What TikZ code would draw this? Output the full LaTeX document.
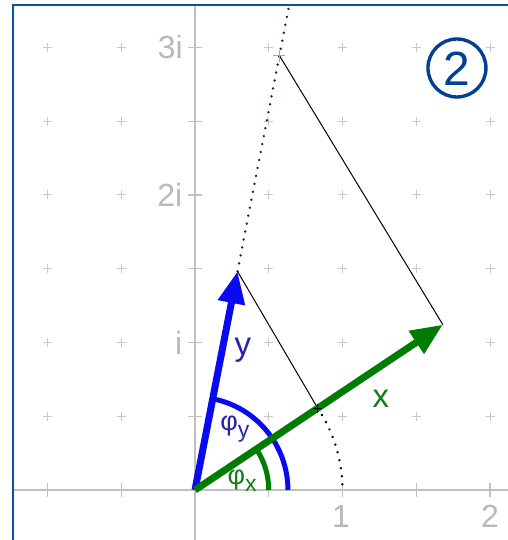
\documentclass[tikz,border=0pt]{standalone}
\usepackage{fontspec}
\setmainfont{Liberation Sans}
\usetikzlibrary{arrows.meta}
\definecolor{frameblue}{RGB}{10,80,170}
\definecolor{vecblue}{RGB}{10,10,240}
\definecolor{lblblue}{RGB}{35,35,175}
\definecolor{vecgreen}{RGB}{0,125,0}
\definecolor{lblgreen}{RGB}{20,125,20}
\definecolor{axisgray}{RGB}{192,192,192}
\definecolor{gridgray}{RGB}{200,200,200}
\definecolor{tickgray}{RGB}{185,185,185}
\definecolor{circblue}{RGB}{0,65,145}
\definecolor{dotblue}{RGB}{30,30,110}
\tikzset{
  gridcross/.style={draw=gridgray, line width=1pt},
  axisline/.style={draw=axisgray, line width=1.6pt},
  ticklbl/.style={text=tickgray, font=\fontsize{32}{32}\selectfont, inner sep=0pt},
  vecarrow/.style={line width=7pt, -{Triangle[length=32pt,width=26pt]}},
  anglearc/.style={line width=5pt},
  thinline/.style={draw=black, line width=1pt},
  dotline/.style={line width=2.6pt, line cap=round, dash pattern=on 0.1pt off 8pt},
  veclbl/.style={font=\fontsize{33}{33}\selectfont, inner sep=0pt},
  anglbl/.style={font=\fontsize{27}{27}\selectfont, inner sep=0pt}
}
\newcommand{\subsc}[1]{\raisebox{-7pt}{\fontsize{23}{23}\selectfont #1}}
\begin{document}
\begin{tikzpicture}[x=147.5pt,y=147.5pt]
\useasboundingbox (-1.3220,-0.3390) rectangle (2.1220,3.3220);
\fill[white] (-1.3220,-0.3390) rectangle (2.1220,3.3220);
% grid crosses
\foreach \gx in {-1,-0.5,0,0.5,1,1.5,2}{
  \foreach \gy in {0,0.5,1,1.5,2,2.5,3}{
    \draw[gridcross] ([xshift=-4.5pt]\gx,\gy) -- ([xshift=4.5pt]\gx,\gy);
    \draw[gridcross] ([yshift=-4.5pt]\gx,\gy) -- ([yshift=4.5pt]\gx,\gy);
  }
}
% axes
\coordinate (O) at (0,0);
\coordinate (axL) at (-1.234,0);
\coordinate (axR) at (2.122,0);
\coordinate (axB) at (0,-0.339);
\coordinate (axT) at (0,3.288);
\draw[axisline] (axL) -- (axR);
\draw[axisline] (axB) -- (axT);
\foreach \gx in {-1,-0.5,0.5,1,1.5,2}{
  \draw[draw=axisgray, line width=1.2pt] ([yshift=-7pt]\gx,0) -- ([yshift=7pt]\gx,0);
}
\foreach \gy in {0.5,1,1.5,2,2.5,3}{
  \draw[draw=axisgray, line width=1.2pt] ([xshift=-7pt]0,\gy) -- ([xshift=7pt]0,\gy);
}
% tick labels
\node[ticklbl, anchor=east] (l3i) at (-0.082,3.0) {3i};
\node[ticklbl, anchor=east] (l2i) at (-0.085,2.0) {2i};
\node[ticklbl, anchor=east] (l1i) at (-0.085,1.0) {i};
\node[ticklbl] (l1) at (0.99,-0.18) {1};
\node[ticklbl] (l2) at (2.0,-0.18) {2};
% frame
\coordinate (frBL) at (-1.234,-0.339);
\coordinate (frTL) at (-1.234,3.288);
\coordinate (frTR) at (2.122,3.288);
\draw[frameblue, line width=2.6pt] (frBL) -- (frTL) -- (frTR);
% key points
\coordinate (X) at (33.7:2.02);
\coordinate (Y) at (79:1.51);
\coordinate (U) at (33.7:1);
\coordinate (P) at (79:3.0);
\coordinate (Ytop) at (79:3.34);
% construction lines
\draw[dotline, dotblue] (Y) -- (Ytop);
\draw[thinline] (Y) -- (U);
\draw[thinline] (P) -- (X);
\draw[dotline, black] (U) arc[start angle=33.7, end angle=0, radius=1];
% angle arcs
\coordinate (By) at (0.63,0);
\coordinate (Bx) at (0.5,0);
\draw[anglearc, vecblue] (By) arc[start angle=0, end angle=79, radius=0.63];
\draw[anglearc, vecgreen] (Bx) arc[start angle=0, end angle=33.7, radius=0.5];
% vectors
\draw[vecarrow, vecblue] (O) -- (Y);
\draw[vecarrow, vecgreen] (O) -- (X);
% markers
\draw[black, line width=1.3pt] ([xshift=-4.5pt]U) -- ([xshift=4.5pt]U);
\draw[black, line width=1.3pt] ([yshift=-4.5pt]U) -- ([yshift=4.5pt]U);
\draw[draw=gridgray!80!blue, line width=1pt] ([xshift=-6pt]P) -- ([xshift=6pt]P);
\draw[draw=gridgray!80!blue, line width=1pt] ([yshift=-6pt]P) -- ([yshift=6pt]P);
% labels
\node[veclbl, text=lblblue] (ly) at (0.325,0.95) {y};
\node[veclbl, text=lblgreen] (lx) at (1.261,0.617) {x};
\node[anglbl, text=lblblue] (lphy) at (0.27,0.41) {φ\subsc{y}};
\node[anglbl, text=lblgreen] (lphx) at (0.32,0.063) {φ\subsc{x}};
% circled 2
\coordinate (C2) at (1.776,2.861);
\draw[circblue, line width=3.4pt] (C2) circle[radius=29pt];
\node[text=circblue, font=\fontsize{48}{48}\selectfont, inner sep=0pt] (n2) at ([yshift=-1pt]C2) {2};
\end{tikzpicture}
\end{document}
